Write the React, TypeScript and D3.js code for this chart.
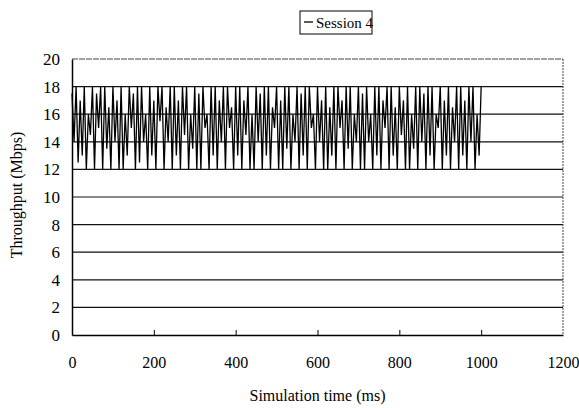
import React, { useEffect, useRef } from "react";
import * as d3 from "d3";

// time step between samples (ms)
const step = 5;

// throughput samples (Mbps), one every 5 ms from 0 to 1000 ms
const session4 = [
  17.5, 14, 18, 12.5, 17, 13, 18, 12, 16, 14.5, 18, 12, 17.5, 15, 18, 12, 18, 13.5, 16.5, 12,
  18, 14, 17, 12, 18, 12, 16, 13, 18, 15, 17.5, 12, 18, 12.5, 18, 14, 16, 12, 18, 13,
  17, 12, 18, 15.5, 18, 12, 16.5, 14, 18, 12, 18, 13, 17, 12, 18, 14.5, 18, 12, 16, 13.5,
  18, 12, 17.5, 12, 18, 15, 16, 12, 18, 13, 18, 12, 17, 14, 18, 12, 18, 15, 16.5, 12,
  18, 13, 18, 12, 17, 14.5, 18, 12, 16, 12, 18, 14, 17.5, 12, 18, 13, 18, 12, 16.5, 15,
  18, 12, 17, 12, 18, 13.5, 18, 12, 16, 14, 18, 12, 17.5, 13, 18, 12, 18, 15, 16, 12,
  18, 14, 17, 12, 18, 12, 16.5, 13, 18, 12, 18, 15, 17, 12, 18, 13.5, 18, 12, 16, 14,
  18, 12, 17.5, 12, 18, 14, 16, 12, 18, 13, 18, 12, 17, 15, 18, 12, 18, 13, 16.5, 12,
  18, 14.5, 17, 12, 18, 12, 16, 13.5, 18, 12, 18, 14, 17.5, 12, 18, 13, 18, 12, 16, 15,
  18, 12, 17, 13, 18, 12, 16.5, 14, 18, 12, 18, 13, 17, 12, 18, 14, 18, 12, 16, 13,
  18,
];

const xTicks = [0, 200, 400, 600, 800, 1000, 1200];
const yTicks = [0, 2, 4, 6, 8, 10, 12, 14, 16, 18, 20];

const App = () => {
  const svgRef = useRef(null);

  useEffect(() => {
    const svg = d3.select(svgRef.current);
    svg.selectAll("*").remove();

    const margin = { top: 59, right: 16, bottom: 73, left: 72 };
    const width = 579 - margin.left - margin.right;
    const height = 408 - margin.top - margin.bottom;
    const font = "'Liberation Serif', 'Times New Roman', serif";

    const x = d3.scaleLinear().domain([0, 1200]).range([0, width]);
    const y = d3.scaleLinear().domain([0, 20]).range([height, 0]);

    const g = svg
      .append("g")
      .attr("transform", `translate(${margin.left},${margin.top})`);

    // horizontal grid lines
    g.selectAll(".grid")
      .data(yTicks.filter((d) => d > 0 && d < 20))
      .enter()
      .append("line")
      .attr("x1", 0)
      .attr("x2", width)
      .attr("y1", (d) => y(d))
      .attr("y2", (d) => y(d))
      .attr("stroke", "#111")
      .attr("stroke-width", 1.2);

    // top and right frame (faint, dotted)
    g.append("line")
      .attr("x1", 0)
      .attr("x2", width)
      .attr("y1", 0)
      .attr("y2", 0)
      .attr("stroke", "#444")
      .attr("stroke-dasharray", "6,1");
    g.append("line")
      .attr("x1", width)
      .attr("x2", width)
      .attr("y1", 0)
      .attr("y2", height)
      .attr("stroke", "#444")
      .attr("stroke-dasharray", "2,1");

    // axes
    const xAxis = d3
      .axisBottom(x)
      .tickValues(xTicks)
      .tickFormat(d3.format("d"))
      .tickSizeInner(-5)
      .tickSizeOuter(0)
      .tickPadding(22);
    const gx = g
      .append("g")
      .attr("transform", `translate(0,${height})`)
      .call(xAxis);
    gx.select(".domain").attr("stroke", "#000").attr("stroke-width", 1.5);
    gx.selectAll(".tick line")
      .attr("stroke", "#000")
      .attr("display", (d) => (d === 0 || d === 1200 ? "none" : null));
    gx.selectAll("text")
      .attr("font-family", font)
      .attr("font-size", 16)
      .attr("fill", "#000");

    const yAxis = d3
      .axisLeft(y)
      .tickValues(yTicks)
      .tickSize(0)
      .tickPadding(12);
    const gy = g.append("g").call(yAxis);
    gy.select(".domain").attr("stroke", "#000").attr("stroke-width", 1.5);
    gy.selectAll("text")
      .attr("font-family", font)
      .attr("font-size", 17)
      .attr("fill", "#000");

    // data line
    const line = d3
      .line()
      .x((d, i) => x(i * step))
      .y((d) => y(d));
    g.append("path")
      .datum(session4)
      .attr("fill", "none")
      .attr("stroke", "#000")
      .attr("stroke-width", 1.3)
      .attr("d", line);

    // axis titles
    svg
      .append("text")
      .attr("x", margin.left + width / 2)
      .attr("y", 401)
      .attr("text-anchor", "middle")
      .attr("font-family", font)
      .attr("font-size", 16)
      .text("Simulation time (ms)");
    svg
      .append("text")
      .attr("transform", `translate(22,${margin.top + height / 2 - 2}) rotate(-90)`)
      .attr("text-anchor", "middle")
      .attr("font-family", font)
      .attr("font-size", 16)
      .text("Throughput (Mbps)");

    // legend
    const lg = svg.append("g").attr("transform", "translate(300,11)");
    lg.append("rect")
      .attr("width", 72)
      .attr("height", 23)
      .attr("fill", "#fff")
      .attr("stroke", "#000");
    lg.append("line")
      .attr("x1", 4)
      .attr("x2", 13)
      .attr("y1", 11)
      .attr("y2", 11)
      .attr("stroke", "#000")
      .attr("stroke-width", 1.3);
    lg.append("text")
      .attr("x", 16)
      .attr("y", 17)
      .attr("font-family", font)
      .attr("font-size", 15)
      .text("Session 4");
  }, []);

  return <svg ref={svgRef} width={579} height={408} style={{ display: "block", position: "absolute", left: 0, top: 0 }}></svg>;
};

export default App;
